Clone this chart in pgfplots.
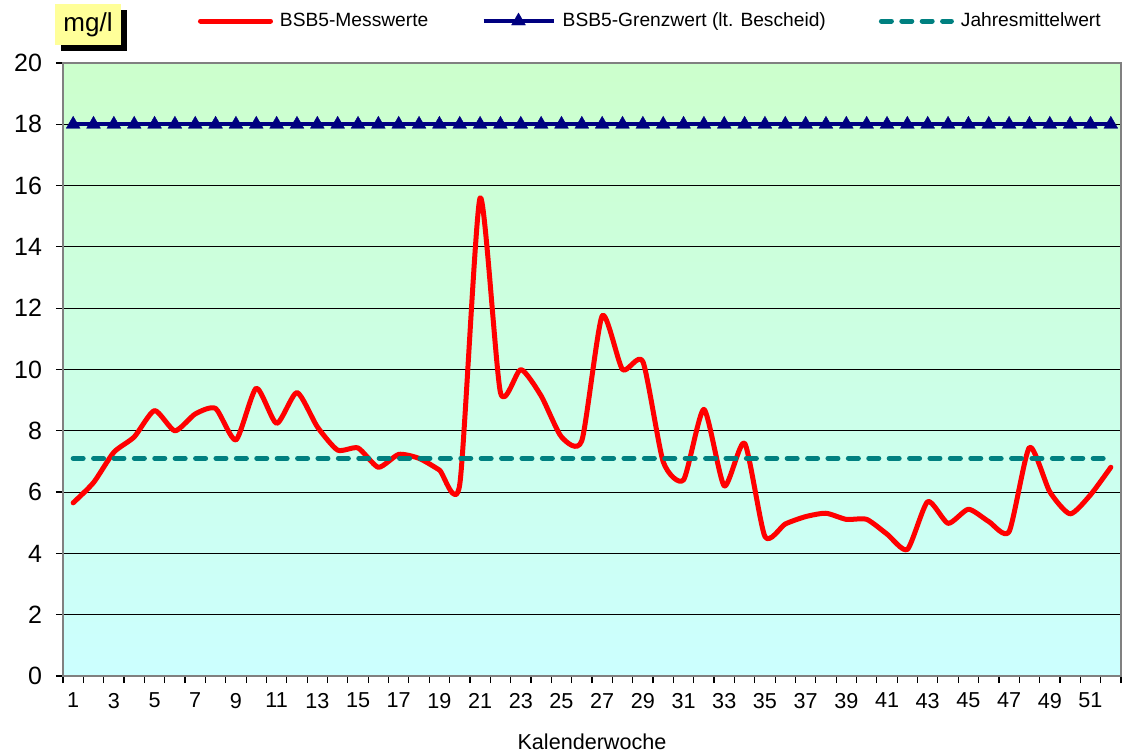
\documentclass[border=0pt]{standalone}
\usepackage{fontspec}
\setmainfont{Liberation Sans}
\usepackage{pgfplots}
\pgfplotsset{compat=1.18}
\usepackage{pgfplotstable}
\definecolor{bgtop}{RGB}{204,255,204}
\definecolor{bgbot}{RGB}{204,255,255}
\definecolor{mgyellow}{RGB}{255,255,153}
\definecolor{limitblue}{RGB}{0,0,128}
\definecolor{meanteal}{RGB}{0,128,128}
\definecolor{framegray}{RGB}{128,128,128}

\pgfplotstableread{
w v
1 5.65
2 6.31
3 7.30
4 7.80
5 8.66
6 8.00
7 8.55
8 8.73
9 7.70
10 9.39
11 8.24
12 9.25
13 8.13
14 7.37
15 7.44
16 6.81
17 7.23
18 7.10
19 6.72
20 6.25
21 15.60
22 9.25
23 10.00
24 9.14
25 7.80
26 7.68
27 11.75
28 10.00
29 10.26
30 6.99
31 6.40
32 8.70
33 6.20
34 7.60
35 4.55
36 4.96
37 5.20
38 5.31
39 5.11
40 5.11
41 4.63
42 4.13
43 5.69
44 4.98
45 5.44
46 5.04
47 4.71
48 7.46
49 6.01
50 5.29
51 5.91
52 6.81
}\messwerte

\pgfplotstableread{
w v
1 18
2 18
3 18
4 18
5 18
6 18
7 18
8 18
9 18
10 18
11 18
12 18
13 18
14 18
15 18
16 18
17 18
18 18
19 18
20 18
21 18
22 18
23 18
24 18
25 18
26 18
27 18
28 18
29 18
30 18
31 18
32 18
33 18
34 18
35 18
36 18
37 18
38 18
39 18
40 18
41 18
42 18
43 18
44 18
45 18
46 18
47 18
48 18
49 18
50 18
51 18
52 18
}\grenzwert

\pgfplotstableread{
w v
1 7.1
2 7.1
3 7.1
4 7.1
5 7.1
6 7.1
7 7.1
8 7.1
9 7.1
10 7.1
11 7.1
12 7.1
13 7.1
14 7.1
15 7.1
16 7.1
17 7.1
18 7.1
19 7.1
20 7.1
21 7.1
22 7.1
23 7.1
24 7.1
25 7.1
26 7.1
27 7.1
28 7.1
29 7.1
30 7.1
31 7.1
32 7.1
33 7.1
34 7.1
35 7.1
36 7.1
37 7.1
38 7.1
39 7.1
40 7.1
41 7.1
42 7.1
43 7.1
44 7.1
45 7.1
46 7.1
47 7.1
48 7.1
49 7.1
50 7.1
51 7.1
52 7.1
}\mittel

\begin{document}
\begin{tikzpicture}
\begin{axis}[
  at={(0pt,0pt)}, anchor=south west,
  scale only axis, width=529pt, height=306.5pt,
  xmin=0.5, xmax=52.5, ymin=0, ymax=20,
  ytick={0,2,...,20},
  xtick={1,3,...,51},
  minor xtick={0.5,1.5,...,52.5},
  xtick pos=bottom, ytick pos=left,
  tick align=outside,
  major tick length=3.5pt, minor tick length=3.5pt,
  major x tick style={draw=none},
  tick style={black, line width=0.6pt},
  ymajorgrids,
  grid style={black, line width=0.5pt},
  axis line style={framegray, line width=1.3pt},
  axis background/.style={top color=bgtop, bottom color=bgbot},
  /pgf/number format/assume math mode=true,
  yticklabel style={font=\fontsize{12.5}{13}\selectfont, xshift=-3.5pt},
  xticklabel style={font=\fontsize{10.8}{12}\selectfont, yshift=-1.5pt},
  xlabel={Kalenderwoche},
  xlabel style={font=\fontsize{10.8}{12}\selectfont, yshift=-6pt},
  legend columns=3,
  legend style={draw=none, fill=none, inner sep=0pt, outer sep=0pt,
    at={(axis description cs:0.1276,1.0685)}, anchor=west,
    font=\fontsize{9.6}{11}\selectfont,
    nodes={inner sep=0pt, anchor=west},
    /tikz/every odd column/.append style={column sep=3.5pt},
    /tikz/every even column/.append style={column sep=26.5pt}},
  legend image code/.code={\draw[mark repeat=2, mark phase=2, #1] plot coordinates {(0pt,0pt) (17.5pt,0pt) (35pt,0pt)};},
]
\addplot[red, line width=2.5pt, smooth, tension=0.38, line cap=round, line join=round] table[x=w, y=v] {\messwerte};
\addlegendentry{BSB5-Messwerte}
\addplot[limitblue, line width=2.2pt, mark=triangle*, mark size=4pt, mark options={solid, fill=limitblue, line width=0.2pt}] table[x=w, y=v] {\grenzwert};
\addlegendentry{BSB5-Grenzwert (lt. Bescheid)}
\addplot[meanteal, line width=2.5pt, line cap=round, dash pattern=on 5pt off 5.2pt] table[x=w, y=v] {\mittel};
\addlegendentry{Jahresmittelwert}
\end{axis}
\fill[black] (-1pt,312.5pt) rectangle (32pt,333pt);
\fill[mgyellow] (-4pt,315.5pt) rectangle (29pt,336pt);
\node[font=\fontsize{13}{14}\selectfont, inner sep=0pt] at (12.5pt,325.75pt) {mg/l};
\pgfresetboundingbox
\path[use as bounding box] (-31.5pt,-39.5pt) rectangle (531pt,338pt);
\end{tikzpicture}
\end{document}
